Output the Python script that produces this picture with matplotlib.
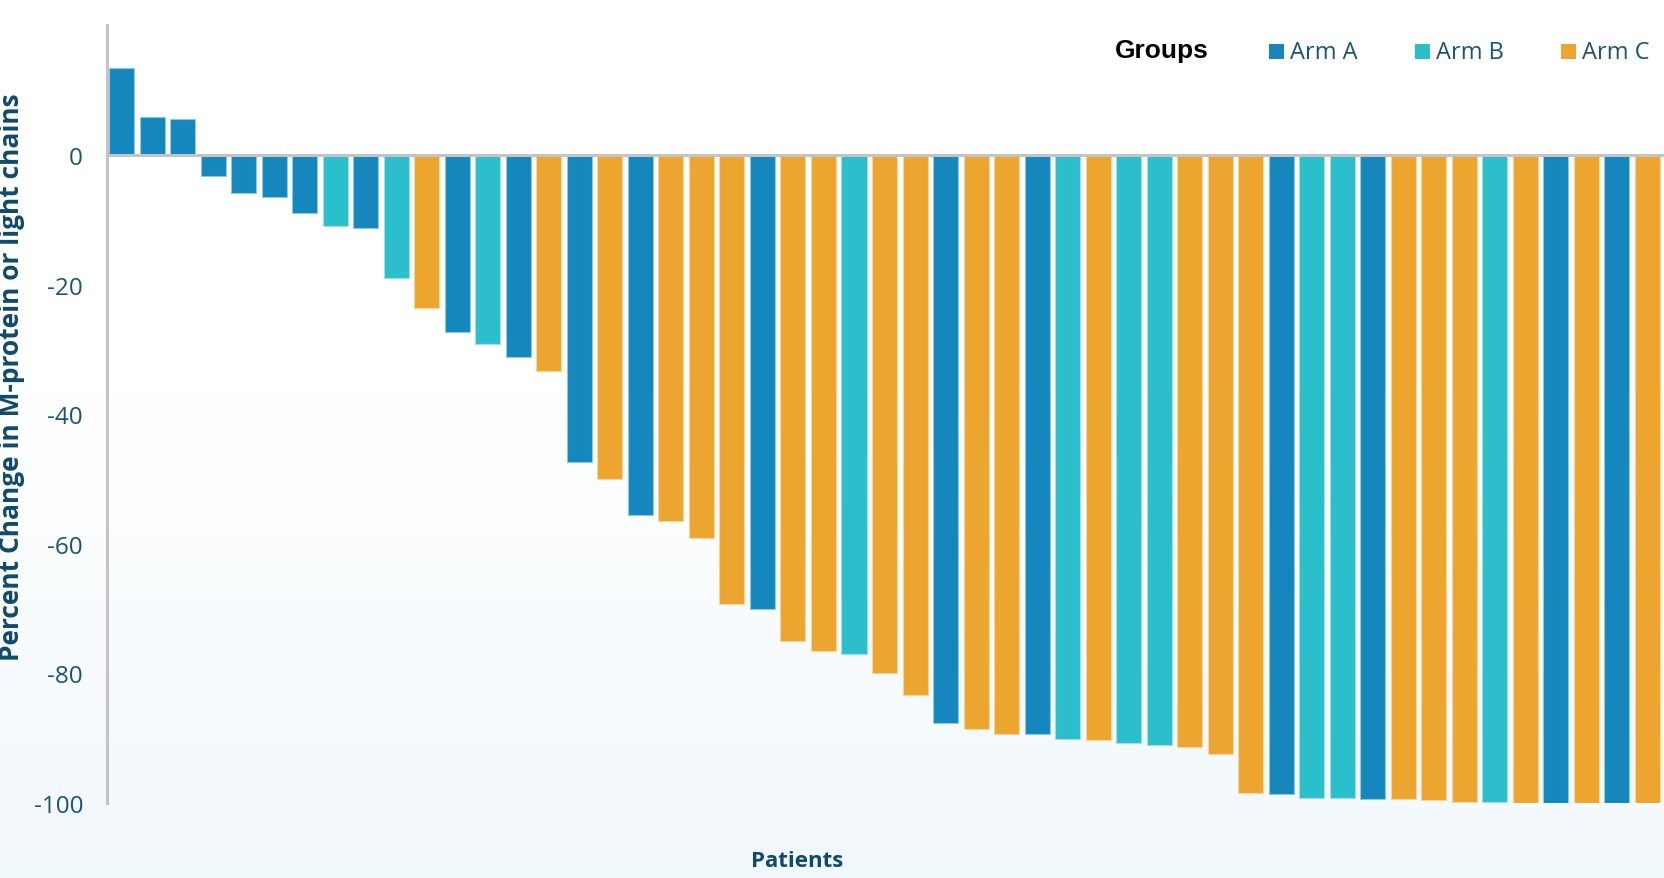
"""
Waterfall plot: best percent change in M-protein or light chains per patient,
coloured by treatment arm.
"""
import numpy as np
import matplotlib
matplotlib.use("Agg")
import matplotlib.pyplot as plt
from matplotlib import font_manager
from matplotlib.patches import Rectangle

# ── data ────────────────────────────────────────────────────────────────
pct_change = [
    13.4, 5.9, 5.6, -3.3, -5.9, -6.4, -9.0, -10.9, -11.2, -19.0,
    -23.6, -27.3, -29.2, -31.1, -33.3, -47.3, -50.0, -55.6, -56.5, -59.1,
    -69.3, -70.0, -75.0, -76.5, -77.0, -80.0, -83.4, -87.6, -88.6, -89.4,
    -89.4, -90.1, -90.3, -90.8, -91.0, -91.4, -92.4, -98.4, -98.6, -99.2,
    -99.3, -99.4, -99.4, -99.6, -99.8, -99.9, -100.0, -100.0, -100.0, -100.0,
    -100.0,
]
arm = [
    "A", "A", "A", "A", "A", "A", "A", "B", "A", "B",
    "C", "A", "B", "A", "C", "A", "C", "A", "C", "C",
    "C", "A", "C", "C", "B", "C", "C", "A", "C", "C",
    "A", "B", "C", "B", "B", "C", "C", "C", "A", "B",
    "B", "A", "C", "C", "C", "B", "C", "A", "C", "A",
    "C",
]
arm_names = ["A", "B", "C"]
arm_labels = ["Arm A", "Arm B", "Arm C"]
y_ticks = [0, -20, -40, -60, -80, -100]

ARM_COLORS = {"A": "#1587bd", "B": "#2bbecb", "C": "#eca62f"}
ARM_EDGES = {"A": "#8fc8e2", "B": "#9fe0e6", "C": "#f6d49a"}
TICK_COLOR = "#1a5478"
LABEL_COLOR = "#0f4a6c"

installed = {f.name for f in font_manager.fontManager.ttflist}
NARROW = "Liberation Sans Narrow" if "Liberation Sans Narrow" in installed else "Open Sans"
NARROW_SIZE = 22 if NARROW == "Liberation Sans Narrow" else 19

plt.rcParams.update({"font.family": "Open Sans"})

W, H = 1664, 879
fig = plt.figure(figsize=(W / 100, H / 100), dpi=100)

# soft white -> pale blue backdrop
bg = fig.add_axes([0, 0, 1, 1], zorder=-10)
yy = np.linspace(0, 1, 400)[:, None]
t = np.clip((0.55 - yy) / 0.55, 0, 1)
top = np.array([1.0, 1.0, 1.0])
bottom = np.array([241, 248, 252]) / 255
grad = (1 - t)[..., None] * top + t[..., None] * bottom
grad = np.repeat(grad, 2, axis=1)
bg.imshow(grad, aspect="auto", origin="lower", extent=[0, 1, 0, 1])
bg.set_axis_off()

ax = fig.add_axes([106.7 / W, 1 - 804 / H, 1 - 106.7 / W, (804 - 26.5) / H])
ax.patch.set_alpha(0)

x = np.arange(len(pct_change))
ax.bar(x, pct_change, width=0.82,
       color=[ARM_COLORS[a] for a in arm],
       edgecolor=[ARM_EDGES[a] for a in arm], linewidth=0.8, zorder=2)
ax.axhline(0, color="#c4c4c4", linewidth=2.2, zorder=3)

ax.set_xlim(-0.495, 50.55)
ax.set_ylim(-100, 20)
ax.set_xticks([])
ax.set_yticks(y_ticks)
ax.set_yticklabels([str(v) for v in y_ticks])
ax.tick_params(axis="y", length=0, pad=17, labelsize=17.5, labelcolor=TICK_COLOR)
for s in ("top", "right", "bottom"):
    ax.spines[s].set_visible(False)
ax.spines["left"].set_color("#c4c4c4")
ax.spines["left"].set_linewidth(2.2)

# axis titles
fig.text(12 / W, 1 - 377 / H, "Percent Change in M-protein or light chains",
         rotation=90, ha="center", va="center", color=LABEL_COLOR,
         fontsize=NARROW_SIZE, fontweight="bold", family=NARROW)
fig.text(797 / W, 1 - 862 / H, "Patients", ha="center", va="center",
         color=LABEL_COLOR, fontsize=16, fontweight="bold")

# legend row
fig.text(1115 / W, 1 - 51 / H, "Groups", ha="left", va="center",
         color="black", fontsize=19, fontweight="bold", family="Liberation Sans")
for name, label, sq_x in zip(arm_names, arm_labels, [1269, 1415, 1561]):
    fig.add_artist(Rectangle((sq_x / W, 1 - 60 / H), 15 / W, 15 / H,
                             transform=fig.transFigure,
                             facecolor=ARM_COLORS[name], edgecolor="none"))
    fig.text((sq_x + 21) / W, 1 - 53 / H, label, ha="left", va="center",
             color=TICK_COLOR, fontsize=17)

fig.savefig("out.png", dpi=100)
